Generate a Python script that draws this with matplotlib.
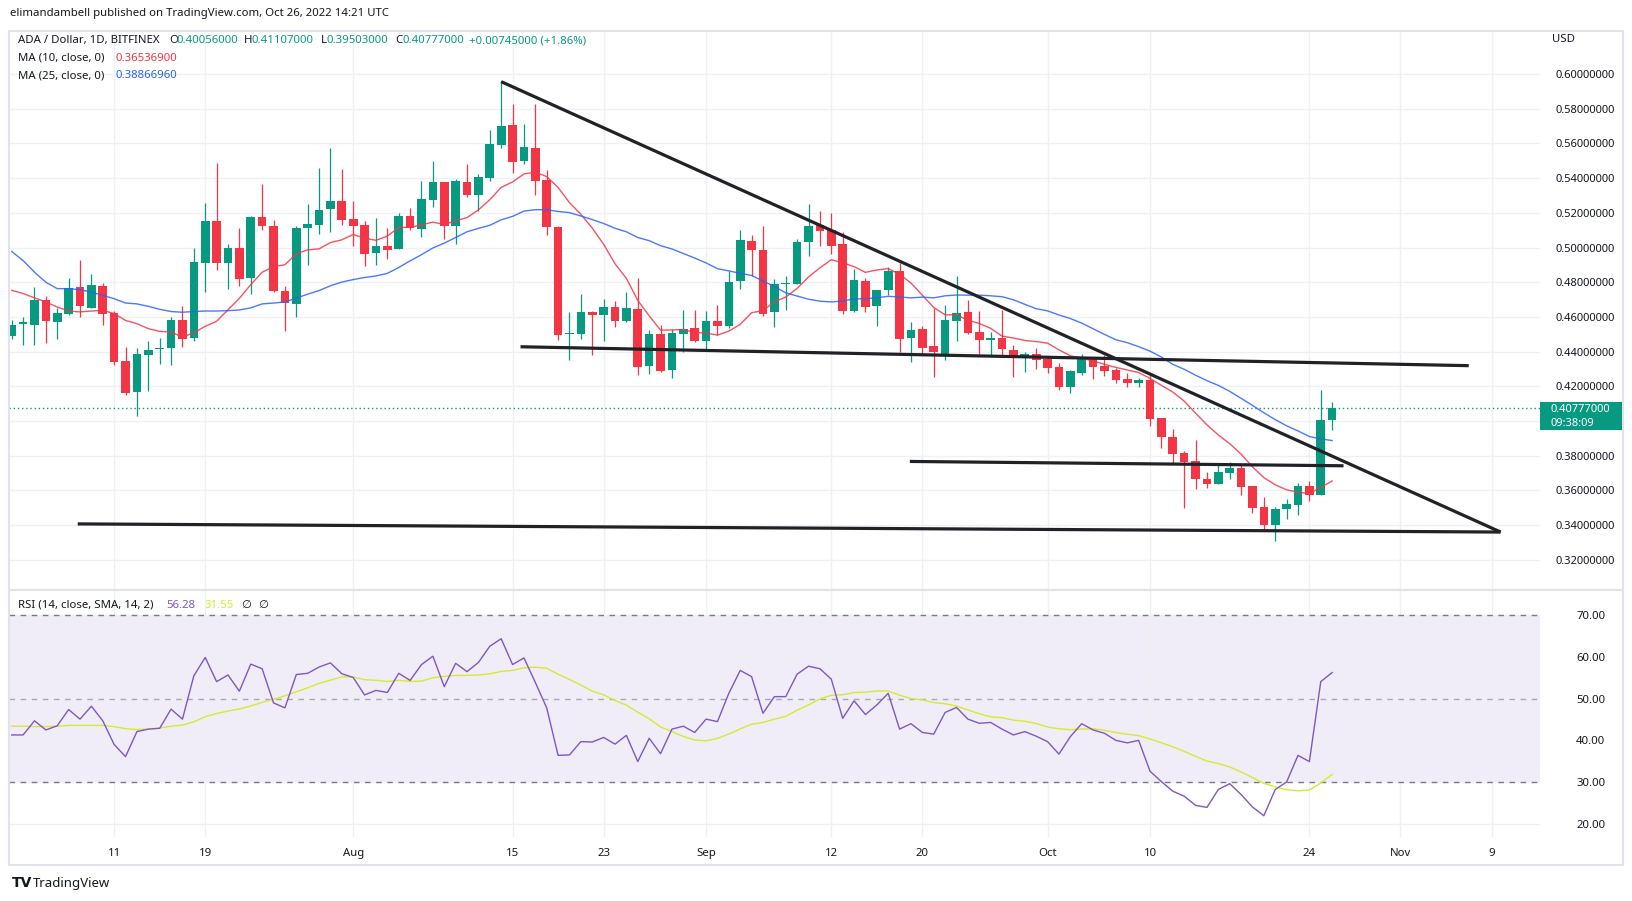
import numpy as np
import pandas as pd
import matplotlib
matplotlib.use("Agg")
import matplotlib.pyplot as plt
from matplotlib.patches import Rectangle
from matplotlib.lines import Line2D

plt.rcParams['font.family'] = ['Noto Sans', 'DejaVu Sans']

W, H = 1633, 901

# ADA / Dollar, 1D, BITFINEX  -- 2 Jul .. 26 Oct 2022
dates = pd.date_range("2022-07-02", "2022-10-26", freq="D")
opens = [0.4489, 0.4560, 0.4556, 0.4700, 0.4569, 0.4619, 0.4772, 0.4653, 0.4778, 0.4625,
         0.4347, 0.4167, 0.4380, 0.4413, 0.4418, 0.4585, 0.4477, 0.4908, 0.5153, 0.4908,
         0.4998, 0.4826, 0.5178, 0.5126, 0.4751, 0.4676, 0.5113, 0.5132, 0.5222, 0.5268,
         0.5165, 0.5130, 0.4966, 0.5010, 0.4992, 0.5184, 0.5107, 0.5274, 0.5377, 0.5126,
         0.5377, 0.5302, 0.5400, 0.5589, 0.5704, 0.5500, 0.5572, 0.5388, 0.5120, 0.4500,
         0.4504, 0.4631, 0.4613, 0.4659, 0.4575, 0.4648, 0.4317, 0.4504, 0.4294, 0.4504,
         0.4539, 0.4460, 0.4577, 0.4546, 0.4805, 0.5036, 0.4987, 0.4627, 0.4790, 0.4791,
         0.5029, 0.5130, 0.5101, 0.5021, 0.4632, 0.4809, 0.4661, 0.4753, 0.4866, 0.4476,
         0.4533, 0.4431, 0.4384, 0.4579, 0.4631, 0.4514, 0.4466, 0.4481, 0.4412, 0.4365,
         0.4386, 0.4357, 0.4309, 0.4196, 0.4278, 0.4363, 0.4315, 0.4292, 0.4240, 0.4217,
         0.4234, 0.4016, 0.3907, 0.3815, 0.3767, 0.3664, 0.3639, 0.3700, 0.3729, 0.3626,
         0.3503, 0.3398, 0.3490, 0.3518, 0.3626, 0.3576, 0.40056]
highs = [0.4585, 0.4600, 0.4772, 0.4720, 0.4652, 0.4826, 0.4929, 0.4849, 0.4797, 0.4632,
         0.4424, 0.4418, 0.4464, 0.4479, 0.4600, 0.4665, 0.4996, 0.5256, 0.5486, 0.5021,
         0.5113, 0.5184, 0.5366, 0.5159, 0.4780, 0.5126, 0.5251, 0.5457, 0.5572, 0.5452,
         0.5268, 0.5151, 0.5170, 0.5111, 0.5199, 0.5228, 0.5383, 0.5498, 0.5380, 0.5394,
         0.5480, 0.5423, 0.5676, 0.5959, 0.5825, 0.5710, 0.5825, 0.5446, 0.5124, 0.4631,
         0.4734, 0.4633, 0.4705, 0.4694, 0.4743, 0.4826, 0.4523, 0.4556, 0.4533, 0.4638,
         0.4638, 0.4634, 0.4671, 0.4862, 0.5100, 0.5075, 0.5124, 0.4820, 0.4835, 0.5050,
         0.5251, 0.5211, 0.5199, 0.5088, 0.4877, 0.4826, 0.4758, 0.4889, 0.4908, 0.4571,
         0.4548, 0.4652, 0.4671, 0.4837, 0.4699, 0.4636, 0.4514, 0.4642, 0.4441, 0.4395,
         0.4418, 0.4370, 0.4336, 0.4292, 0.4384, 0.4365, 0.4380, 0.4305, 0.4275, 0.4248,
         0.4275, 0.4018, 0.3953, 0.3825, 0.3892, 0.3706, 0.3754, 0.3763, 0.3748, 0.3627,
         0.3562, 0.3503, 0.3551, 0.3643, 0.3652, 0.4177, 0.41107]
lows = [0.4470, 0.4437, 0.4437, 0.4447, 0.4472, 0.4613, 0.4602, 0.4650, 0.4556, 0.4322,
        0.4150, 0.4030, 0.4173, 0.4328, 0.4322, 0.4426, 0.4460, 0.4743, 0.4872, 0.4763,
        0.4776, 0.4734, 0.5101, 0.4745, 0.4518, 0.4598, 0.4897, 0.5078, 0.5092, 0.5132,
        0.5011, 0.4891, 0.4897, 0.4935, 0.4990, 0.5101, 0.5061, 0.5235, 0.5050, 0.5023,
        0.5291, 0.5212, 0.5385, 0.5574, 0.5429, 0.5480, 0.5302, 0.5075, 0.4466, 0.4351,
        0.4472, 0.4380, 0.4460, 0.4543, 0.4573, 0.4265, 0.4271, 0.4280, 0.4246, 0.4400,
        0.4453, 0.4415, 0.4495, 0.4539, 0.4763, 0.4834, 0.4604, 0.4543, 0.4638, 0.4790,
        0.4954, 0.5006, 0.4960, 0.4615, 0.4627, 0.4627, 0.4546, 0.4728, 0.4400, 0.4342,
        0.4384, 0.4251, 0.4349, 0.4464, 0.4502, 0.4388, 0.4376, 0.4380, 0.4251, 0.4282,
        0.4300, 0.4278, 0.4177, 0.4163, 0.4265, 0.4242, 0.4259, 0.4217, 0.4194, 0.4194,
        0.3972, 0.3844, 0.3758, 0.3496, 0.3610, 0.3616, 0.3638, 0.3668, 0.3576, 0.3471,
        0.3369, 0.3308, 0.3438, 0.3461, 0.3541, 0.3574, 0.39503]
closes = [0.4556, 0.4570, 0.4700, 0.4575, 0.4623, 0.4768, 0.4661, 0.4784, 0.4619, 0.4338,
          0.4160, 0.4384, 0.4412, 0.4418, 0.4585, 0.4472, 0.4918, 0.5153, 0.4908, 0.4998,
          0.4820, 0.5178, 0.5126, 0.4747, 0.4682, 0.5113, 0.5136, 0.5216, 0.5268, 0.5159,
          0.5126, 0.4960, 0.5010, 0.4987, 0.5184, 0.5115, 0.5279, 0.5377, 0.5126, 0.5383,
          0.5302, 0.5406, 0.5595, 0.5699, 0.5494, 0.5578, 0.5385, 0.5120, 0.4498, 0.4510,
          0.4631, 0.4613, 0.4659, 0.4575, 0.4650, 0.4309, 0.4504, 0.4288, 0.4510, 0.4533,
          0.4460, 0.4577, 0.4546, 0.4803, 0.5042, 0.4983, 0.4619, 0.4789, 0.4793, 0.5032,
          0.5124, 0.5098, 0.5011, 0.4632, 0.4814, 0.4655, 0.4757, 0.4866, 0.4472, 0.4527,
          0.4418, 0.4395, 0.4585, 0.4625, 0.4510, 0.4466, 0.4481, 0.4415, 0.4363, 0.4386,
          0.4351, 0.4307, 0.4196, 0.4286, 0.4365, 0.4311, 0.4288, 0.4236, 0.4217, 0.4236,
          0.4012, 0.3909, 0.3811, 0.3763, 0.3668, 0.3639, 0.3706, 0.3729, 0.3622, 0.3496,
          0.3398, 0.3494, 0.3522, 0.3626, 0.3576, 0.4005, 0.40777]

# RSI(14) line as drawn in the lower pane
rsi = [41.3, 41.3, 44.7, 42.5, 43.5, 47.4, 45.1, 48.2, 44.7, 39.0,
       36.1, 42.1, 42.7, 42.9, 47.5, 45.1, 55.5, 59.9, 54.1, 55.7,
       51.8, 58.3, 57.2, 49.0, 47.8, 55.8, 56.1, 57.6, 58.6, 56.0,
       55.1, 50.9, 52.0, 51.5, 56.1, 54.4, 58.2, 60.2, 52.9, 58.5,
       56.5, 58.7, 62.6, 64.4, 58.2, 59.8, 53.9, 47.8, 36.4, 36.5,
       39.7, 39.6, 40.7, 39.1, 41.2, 34.9, 40.5, 36.8, 42.7, 43.4,
       41.9, 45.1, 44.5, 51.3, 56.8, 55.3, 46.5, 50.5, 50.5, 55.9,
       57.8, 57.2, 54.7, 45.3, 49.5, 46.2, 48.5, 51.3, 42.7, 44.0,
       41.9, 41.5, 46.7, 47.9, 45.1, 44.1, 44.3, 42.7, 41.3, 42.1,
       41.0, 39.7, 36.7, 40.9, 44.0, 42.5, 41.7, 40.0, 39.4, 40.0,
       32.6, 30.1, 27.8, 26.6, 24.4, 23.9, 28.2, 29.6, 27.0, 24.0,
       21.9, 28.2, 30.0, 36.4, 34.9, 54.1, 56.28]

# indicator values at the left edge (their history starts before 2 Jul)
ma10_head = [0.4753, 0.4735, 0.4710, 0.4686, 0.4657, 0.4634, 0.4629, 0.4634, 0.4638]
ma25_head = [0.4977, 0.4925, 0.4858, 0.4800, 0.4763, 0.4763, 0.4757, 0.4743, 0.4724, 0.4705,
             0.4680, 0.4675, 0.4661, 0.4644, 0.4631, 0.4627, 0.4631, 0.4634, 0.4634, 0.4636,
             0.4640, 0.4652, 0.4675, 0.4680]
rsi_ma_head = [43.4, 43.4, 43.3, 43.3, 43.4, 43.6, 43.6, 43.6, 43.6, 43.3, 42.8, 42.6, 42.7]

# values printed in the legends
ma10_last = 0.365369
ma25_last = 0.3886696
rsi_ma_last = 31.55

tick_days = ["2022-07-11", "2022-07-19", "2022-08-01", "2022-08-15", "2022-08-23",
             "2022-09-01", "2022-09-12", "2022-09-20", "2022-10-01", "2022-10-10",
             "2022-10-24", "2022-11-01", "2022-11-09"]
tick_labels = ["11", "19", "Aug", "15", "23", "Sep", "12", "20", "Oct", "10", "24", "Nov", "9"]

# hand-drawn trend lines: (day index, price)
trend_lines = [
    [(43.0, 0.5956), (130.8, 0.3360)],
    [(44.7, 0.4428), (128.0, 0.4319)],
    [(78.9, 0.3767), (117.0, 0.3742)],
    [(5.8, 0.3407), (130.8, 0.3360)],
]

GREEN = "#089981"
RED = "#f23645"
BLUE = "#2962ff"
PURPLE = "#7e57c2"
YELLOW = "#d7ea2c"
TXT = "#131722"
GRID = "#eef0f4"
FRAME = "#e0e3eb"

x = np.arange(len(dates))
o = np.array(opens); h = np.array(highs); l = np.array(lows); c = np.array(closes)

ma10 = pd.Series(c).rolling(10).mean().to_numpy()
ma10[:9] = ma10_head
ma25 = pd.Series(c).rolling(25).mean().to_numpy()
ma25[:24] = ma25_head
rsi_ma = pd.Series(rsi).rolling(14).mean().to_numpy()
rsi_ma[:13] = rsi_ma_head

tick_idx = [(pd.Timestamp(d) - dates[0]).days for d in tick_days]


def fx(px):
    return px / W


def fy(py):
    return 1 - py / H


fig = plt.figure(figsize=(W / 100, H / 100), dpi=100)
fig.patch.set_facecolor("white")

left, right = 8.7, 1540
ax = fig.add_axes([fx(left), fy(590), fx(right) - fx(left), (590 - 31) / H])
axr = fig.add_axes([fx(left), fy(837), fx(right) - fx(left), (837 - 590) / H])

xlim = (-0.264, 134.26)

# ---- price pane ----
up = c >= o
col = np.where(up, GREEN, RED)
ax.vlines(x, l, h, colors=col, lw=0.9, zorder=2)
body = np.maximum(np.abs(c - o), 0.0006)
ax.bar(x, body, bottom=np.minimum(o, c), width=0.76, color=col, linewidth=0, zorder=3)
ax.plot(x, ma10, color=RED, lw=1.0, alpha=0.85, zorder=4)
ax.plot(x, ma25, color=BLUE, lw=1.0, alpha=0.85, zorder=4)
for (x0, y0), (x1, y1) in trend_lines:
    ax.plot([x0, x1], [y0, y1], color="#202228", lw=2.3, solid_capstyle="butt", zorder=5)
ax.axhline(c[-1], color=GREEN, lw=1.0, ls=(0, (1, 2)), zorder=1)

ax.set_xlim(*xlim)
ax.set_ylim(0.3026, 0.6248)
ax.set_xticks(tick_idx)
ax.yaxis.tick_right()
yt = np.round(np.arange(0.32, 0.6001, 0.02), 2)
ax.set_yticks(yt)
# the 0.40 label sits under the last-price tag
ax.set_yticklabels(["" if abs(v - 0.40) < 1e-9 else f"{v:.8f}" for v in yt])
ax.tick_params(axis="y", length=0, pad=11, labelsize=8.0, labelcolor=TXT)
ax.tick_params(axis="x", length=0, labelbottom=False)
ax.grid(color=GRID, lw=1)
ax.set_axisbelow(True)
for s in ax.spines.values():
    s.set_visible(False)

# ---- RSI pane ----
axr.axhspan(30, 70, color=PURPLE, alpha=0.1, lw=0, zorder=0)
for lev, a in [(70, 1.0), (50, 0.6), (30, 1.0)]:
    axr.axhline(lev, color="#787b86", lw=1, ls=(0, (4, 4)), alpha=a, zorder=1)
axr.plot(x, rsi, color=PURPLE, lw=1.0, zorder=3)
axr.plot(x, rsi_ma, color=YELLOW, lw=1.0, zorder=2)
axr.set_xlim(*xlim)
axr.set_ylim(16.8, 76.1)
axr.set_xticks(tick_idx)
axr.set_xticklabels(tick_labels)
axr.yaxis.tick_right()
axr.set_yticks([20, 30, 40, 50, 60, 70])
axr.set_yticklabels([f"{v:.2f}" for v in [20, 30, 40, 50, 60, 70]])
axr.tick_params(axis="y", length=0, pad=26, labelsize=8.2, labelcolor=TXT)
axr.tick_params(axis="x", length=0, pad=8, labelsize=8.2, labelcolor=TXT)
axr.grid(color=GRID, lw=1)
axr.set_axisbelow(True)
for s in axr.spines.values():
    s.set_visible(False)

# ---- frame ----
fig.add_artist(Rectangle((fx(8.7), fy(865)), fx(1623) - fx(8.7), (865 - 31) / H,
                         transform=fig.transFigure, fill=False, ec=FRAME, lw=1.5))
fig.add_artist(Line2D([fx(8.7), fx(1623)], [fy(590), fy(590)], transform=fig.transFigure,
                      color=FRAME, lw=1.5))

# ---- texts ----
fs = 8.2
fig.text(fx(10.4), fy(13.5), "elimandambell published on TradingView.com, Oct 26, 2022 14:21 UTC",
         fontsize=fs, color=TXT, va="center")
hy = fy(40.6)
fig.text(fx(17.7), hy, "ADA / Dollar, 1D, BITFINEX", fontsize=fs, color=TXT, va="center")
for lab, lx, val, vx in [("O", 168.8, opens[-1], 176.3), ("H", 243.9, highs[-1], 251.8),
                          ("L", 320.6, lows[-1], 326.5), ("C", 395.3, closes[-1], 402.4)]:
    fig.text(fx(lx), hy, lab, fontsize=fs, color=TXT, va="center")
    fig.text(fx(vx), hy, f"{val:.8f}", fontsize=fs, color=GREEN, va="center")
chg = closes[-1] - closes[-2] if False else 0.00745
fig.text(fx(469.2), hy, f"+{chg:.8f} (+1.86%)", fontsize=fs, color=GREEN, va="center")
fig.text(fx(17.7), fy(58.3), "MA (10, close, 0)", fontsize=fs, color=TXT, va="center")
fig.text(fx(115.4), fy(58.3), f"{ma10_last:.8f}", fontsize=fs, color=RED, va="center")
fig.text(fx(17.7), fy(76), "MA (25, close, 0)", fontsize=fs, color=TXT, va="center")
fig.text(fx(115.4), fy(76), f"{ma25_last:.8f}", fontsize=fs, color=BLUE, va="center")

ry = fy(605)
fig.text(fx(17.7), ry, "RSI (14, close, SMA, 14, 2)", fontsize=fs, color=TXT, va="center")
fig.text(fx(166.6), ry, f"{rsi[-1]:.2f}", fontsize=fs, color=PURPLE, va="center")
fig.text(fx(204), ry, f"{rsi_ma_last:.2f}", fontsize=fs, color=YELLOW, va="center")
fig.text(fx(241.6), ry, "\u2205", fontsize=fs, color=TXT, va="center")
fig.text(fx(258), ry, "\u2205", fontsize=fs, color=TXT, va="center")

fig.text(fx(1552), fy(40), "USD", fontsize=fs, color=TXT, va="center")

# last price tag
fig.add_artist(Rectangle((fx(1540), fy(430)), fx(1622) - fx(1540), 27.5 / H,
                         transform=fig.transFigure, color=GREEN, lw=0))
fig.text(fx(1551), fy(410), f"{c[-1]:.8f}", fontsize=8.0, color="white", weight="bold", va="center")
fig.text(fx(1551), fy(424), "09:38:09", fontsize=8.0, color="white", va="center")

# TradingView mark
fig.text(fx(12), fy(883), "TV", fontsize=10, color=TXT, weight="bold", va="center",
         family="DejaVu Sans")
fig.text(fx(33), fy(883), "TradingView", fontsize=9.5, color=TXT, va="center")

fig.savefig("out.png", dpi=100, facecolor="white")
